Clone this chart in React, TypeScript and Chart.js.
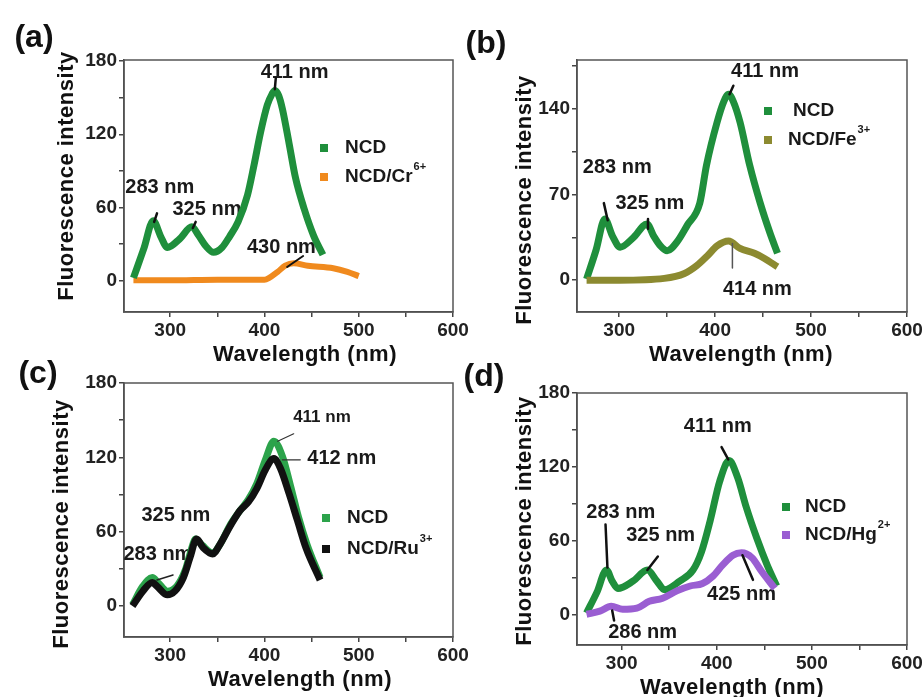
import React, { useEffect, useRef } from 'react';
import { Chart, registerables } from 'chart.js';

Chart.register(...registerables);

const FONT = '"Liberation Sans", Arial, Helvetica, sans-serif';

// ---------- Panel (a) ----------
const aNcdX = [261, 272, 282, 290, 297, 310, 323, 330, 338, 346, 355, 363, 372, 382, 389, 396, 403, 408, 411, 415, 419, 426, 433, 442, 452, 462];
const aNcdY = [2, 26, 49, 36, 27, 34, 44, 37, 28, 23, 27, 36, 48, 70, 95, 122, 144, 153, 156, 152, 141, 113, 84, 59, 37, 21];
const aCrX = [261, 300, 350, 400, 405, 414, 422, 431, 446, 473, 488, 500];
const aCrY = [0, 0, 0.5, 0.5, 2, 7, 12, 14, 12, 10, 7, 3.5];

// ---------- Panel (b) ----------
const bNcdX = [266, 276, 285, 293, 301, 315, 329, 336, 343, 350, 360, 371, 384, 391, 402, 409, 414, 419, 426, 436, 447, 457, 465];
const bNcdY = [1, 25, 50, 36, 27, 35, 46, 36, 28, 24, 31, 45, 63, 94, 129, 146, 152, 146, 129, 94, 63, 39, 22];
const bFeX = [266, 300, 347, 368, 381, 392, 402, 414, 426, 441, 451, 465];
const bFeY = [0, 0, 1.5, 5.5, 12, 20, 28, 32, 26, 22, 18, 11];

// ---------- Panel (c) ----------
const cNcdX = [260, 271, 281, 287, 297, 307, 316, 321, 327, 334, 345, 353, 364, 374, 383, 392, 401, 410, 419, 428, 436, 445, 459];
const cNcdY = [1, 16, 23, 19, 12, 16, 29, 42, 54, 49, 43, 50, 66, 77, 86, 99, 118, 133, 121, 96, 72, 50, 23];
const cRuX = [260, 271, 281, 286, 297, 305, 314, 321, 328, 335, 345, 353, 364, 374, 383, 392, 401, 410, 417, 426, 435, 444, 459];
const cRuY = [0, 12, 19, 16, 9, 12, 23, 39, 54, 47, 42, 50, 65, 77, 84, 95, 110, 119, 111, 91, 69, 47, 21];

// ---------- Panel (d) ----------
const dNcdX = [263, 274, 284, 290, 296, 312, 327, 337, 345, 361, 375, 384, 393, 403, 413, 422, 431, 442, 453, 463];
const dNcdY = [1, 18, 36, 27, 21, 27, 36, 27, 20, 27, 36, 51, 76, 108, 125, 111, 87, 62, 40, 23];
const dHgX = [263, 277, 289, 301, 316, 329, 343, 358, 372, 385, 396, 406, 417, 426, 437, 447, 461];
const dHgY = [0, 2.5, 6.5, 4, 5, 10.5, 13, 19, 23, 25, 31, 40, 48, 50, 46, 35, 21];

// ---------- Ticks ----------
const xTicks = [300, 350, 400, 450, 500, 550, 600];
const xLabels = [300, 400, 500, 600];
const yTicks60 = [0, 30, 60, 90, 120, 150, 180];
const yLabels60 = [0, 60, 120, 180];
const yTicks70 = [0, 35, 70, 105, 140, 175];
const yLabels70 = [0, 70, 140];

// ---------- Peak annotations (data coordinates) ----------
type Note = { t: string; x: number; y: number; s?: number };
type Lead = { x1: number; y1: number; x2: number; y2: number; w: number; c: string };

const aNotes: Note[] = [
  { t: '411 nm', x: 432, y: 171 },
  { t: '283 nm', x: 289, y: 76 },
  { t: '325 nm', x: 339, y: 58 },
  { t: '430 nm', x: 418, y: 27 },
];
const aLeads: Lead[] = [
  { x1: 412, y1: 166, x2: 411, y2: 157, w: 2.5, c: '#111' },
  { x1: 286, y1: 55, x2: 283, y2: 48, w: 2.5, c: '#111' },
  { x1: 327, y1: 48, x2: 324, y2: 43, w: 2.5, c: '#111' },
  { x1: 441, y1: 20, x2: 424, y2: 11, w: 2, c: '#111' },
];
const bNotes: Note[] = [
  { t: '411 nm', x: 452, y: 171 },
  { t: '283 nm', x: 298, y: 92 },
  { t: '325 nm', x: 332, y: 63 },
  { t: '414 nm', x: 444, y: -8 },
];
const bLeads: Lead[] = [
  { x1: 419, y1: 159, x2: 415, y2: 152, w: 2.5, c: '#111' },
  { x1: 284, y1: 63, x2: 288, y2: 49, w: 2.5, c: '#111' },
  { x1: 330, y1: 50, x2: 330, y2: 42, w: 2.5, c: '#111' },
  { x1: 418, y1: 30, x2: 418, y2: 10, w: 1.5, c: '#555' },
];
const cNotes: Note[] = [
  { t: '411 nm', x: 461, y: 152, s: 17 },
  { t: '412 nm', x: 482, y: 119 },
  { t: '325 nm', x: 306, y: 73 },
  { t: '283 nm', x: 287, y: 42 },
];
const cLeads: Lead[] = [
  { x1: 431, y1: 139, x2: 414, y2: 133, w: 1.2, c: '#333' },
  { x1: 438, y1: 118, x2: 419, y2: 118, w: 1.2, c: '#333' },
  { x1: 286, y1: 21, x2: 303, y2: 25, w: 1.5, c: '#222' },
];
const dNotes: Note[] = [
  { t: '411 nm', x: 401, y: 153 },
  { t: '283 nm', x: 299, y: 83 },
  { t: '325 nm', x: 341, y: 64 },
  { t: '425 nm', x: 426, y: 16 },
  { t: '286 nm', x: 322, y: -15 },
];
const dLeads: Lead[] = [
  { x1: 405, y1: 136, x2: 412, y2: 126, w: 2.5, c: '#111' },
  { x1: 283, y1: 73, x2: 285, y2: 38, w: 2.5, c: '#111' },
  { x1: 338, y1: 47, x2: 327, y2: 36, w: 2.5, c: '#111' },
  { x1: 427, y1: 48, x2: 438, y2: 28, w: 2.5, c: '#111' },
  { x1: 290, y1: 3, x2: 292, y2: -5, w: 2.5, c: '#111' },
];

// ---------- Colours ----------
const GREEN = '#1f8f3c';
const GREEN_C = '#2ca34b';
const ORANGE = '#f08a1e';
const OLIVE = '#8c8a30';
const BLACK = '#111111';
const PURPLE = '#9a5ed2';

type Series = { label: string; sup?: string; color: string; xs: number[]; ys: number[]; width: number };
type LegendPos = { sx: number; sy: number; tx: number };
type Panel = {
  tag: string;
  area: [number, number, number, number];
  xMin: number; xMax: number; yMin: number; yMax: number;
  yTicks: number[]; yLabels: number[];
  series: Series[]; // first drawn on top
  legend: LegendPos[];
  legendOrder: number[];
  notes: Note[]; leads: Lead[];
  labelPos: [number, number];
  xTitle: [number, number];
  yTitle: [number, number];
};

const panels: Panel[] = [
  {
    tag: '(a)', area: [124, 60, 453, 312], xMin: 251, xMax: 600, yMin: -26, yMax: 181,
    yTicks: yTicks60, yLabels: yLabels60,
    series: [
      { label: 'NCD', color: GREEN, xs: aNcdX, ys: aNcdY, width: 7 },
      { label: 'NCD/Cr', sup: '6+', color: ORANGE, xs: aCrX, ys: aCrY, width: 6 },
    ],
    legendOrder: [0, 1],
    legend: [{ sx: 324, sy: 148, tx: 345 }, { sx: 324, sy: 177, tx: 345 }],
    notes: aNotes, leads: aLeads,
    labelPos: [34, 38], xTitle: [305, 355], yTitle: [67, 176],
  },
  {
    tag: '(b)', area: [577, 60, 907, 312], xMin: 256, xMax: 600, yMin: -26, yMax: 180,
    yTicks: yTicks70, yLabels: yLabels70,
    series: [
      { label: 'NCD/Fe', sup: '3+', color: OLIVE, xs: bFeX, ys: bFeY, width: 7 },
      { label: 'NCD', color: GREEN, xs: bNcdX, ys: bNcdY, width: 7 },
    ],
    legendOrder: [1, 0],
    legend: [{ sx: 768, sy: 111, tx: 793 }, { sx: 768, sy: 140, tx: 788 }],
    notes: bNotes, leads: bLeads,
    labelPos: [486, 44], xTitle: [741, 355], yTitle: [525, 200],
  },
  {
    tag: '(c)', area: [124, 383, 453, 637], xMin: 251, xMax: 600, yMin: -25, yMax: 180,
    yTicks: yTicks60, yLabels: yLabels60,
    series: [
      { label: 'NCD/Ru', sup: '3+', color: BLACK, xs: cRuX, ys: cRuY, width: 7 },
      { label: 'NCD', color: GREEN_C, xs: cNcdX, ys: cNcdY, width: 7 },
    ],
    legendOrder: [1, 0],
    legend: [{ sx: 326, sy: 518, tx: 347 }, { sx: 326, sy: 549, tx: 347 }],
    notes: cNotes, leads: cLeads,
    labelPos: [38, 374], xTitle: [300, 680], yTitle: [62, 524],
  },
  {
    tag: '(d)', area: [577, 393, 907, 645], xMin: 253, xMax: 600, yMin: -25, yMax: 180,
    yTicks: yTicks60, yLabels: yLabels60,
    series: [
      { label: 'NCD/Hg', sup: '2+', color: PURPLE, xs: dHgX, ys: dHgY, width: 7 },
      { label: 'NCD', color: GREEN, xs: dNcdX, ys: dNcdY, width: 7 },
    ],
    legendOrder: [1, 0],
    legend: [{ sx: 786, sy: 507, tx: 805 }, { sx: 786, sy: 535, tx: 805 }],
    notes: dNotes, leads: dLeads,
    labelPos: [484, 377], xTitle: [732, 688], yTitle: [525, 521],
  },
];

const W = 922;
const H = 697;
const YW = 50;
const XH = 30;
const TEXT = '#1a1a1a';

function makeChart(canvas: HTMLCanvasElement, p: Panel) {
  const [L, T, R, B] = p.area;
  const deco = {
    id: 'deco' + p.tag,
    beforeDatasetsDraw(chart: any) {
      const ctx: CanvasRenderingContext2D = chart.ctx;
      const xs = chart.scales.x;
      const ys = chart.scales.y;
      const ca = chart.chartArea;
      ctx.save();
      ctx.strokeStyle = '#555';
      ctx.lineWidth = 1.5;
      ctx.strokeRect(ca.left, ca.top, ca.right - ca.left, ca.bottom - ca.top);
      ctx.fillStyle = TEXT;
      ctx.textAlign = 'center';
      ctx.textBaseline = 'middle';
      for (const n of p.notes) {
        ctx.font = `bold ${n.s || 20}px ${FONT}`;
        ctx.fillText(n.t, xs.getPixelForValue(n.x), ys.getPixelForValue(n.y));
      }
      ctx.restore();
    },
    afterDatasetsDraw(chart: any) {
      const ctx: CanvasRenderingContext2D = chart.ctx;
      const xs = chart.scales.x;
      const ys = chart.scales.y;
      ctx.save();
      ctx.lineCap = 'round';
      for (const l of p.leads) {
        ctx.strokeStyle = l.c;
        ctx.lineWidth = l.w;
        ctx.beginPath();
        ctx.moveTo(xs.getPixelForValue(l.x1), ys.getPixelForValue(l.y1));
        ctx.lineTo(xs.getPixelForValue(l.x2), ys.getPixelForValue(l.y2));
        ctx.stroke();
      }
      p.legendOrder.forEach((si, i) => {
        const s = p.series[si];
        const lp = p.legend[i];
        ctx.fillStyle = s.color;
        ctx.fillRect(lp.sx - 4, lp.sy - 4, 8, 8);
        ctx.fillStyle = TEXT;
        ctx.textAlign = 'left';
        ctx.textBaseline = 'middle';
        ctx.font = `bold 19px ${FONT}`;
        ctx.fillText(s.label, lp.tx, lp.sy);
        if (s.sup) {
          const w = ctx.measureText(s.label).width;
          ctx.font = `bold 11px ${FONT}`;
          ctx.fillText(s.sup, lp.tx + w + 1, lp.sy - 10);
        }
      });
      ctx.fillStyle = '#111';
      ctx.textAlign = 'center';
      ctx.textBaseline = 'middle';
      ctx.font = `bold 32px ${FONT}`;
      ctx.fillText(p.tag, p.labelPos[0], p.labelPos[1]);
      ctx.font = `bold 22px ${FONT}`;
      (ctx as any).letterSpacing = '0.5px';
      ctx.fillText('Wavelength (nm)', p.xTitle[0], p.xTitle[1]);
      ctx.translate(p.yTitle[0], p.yTitle[1]);
      ctx.rotate(-Math.PI / 2);
      ctx.fillText('Fluorescence intensity', 0, 0);
      (ctx as any).letterSpacing = '0px';
      ctx.restore();
    },
  };

  return new Chart(canvas, {
    type: 'line',
    data: {
      datasets: p.series.map((s) => ({
        label: s.label,
        data: s.xs.map((x, i) => ({ x, y: s.ys[i] })),
        borderColor: s.color,
        backgroundColor: s.color,
        borderWidth: s.width,
        pointRadius: 0,
        fill: false,
        cubicInterpolationMode: 'monotone' as const,
        borderJoinStyle: 'round' as const,
        borderCapStyle: 'butt' as const,
      })),
    },
    options: {
      responsive: false,
      maintainAspectRatio: false,
      animation: false,
      devicePixelRatio: 1,
      events: [],
      layout: { padding: { left: L - YW, top: T, right: W - R, bottom: H - B - XH } },
      plugins: { legend: { display: false }, tooltip: { enabled: false }, title: { display: false } },
      scales: {
        x: {
          type: 'linear',
          min: p.xMin,
          max: p.xMax,
          afterBuildTicks: (s: any) => { s.ticks = xTicks.map((v) => ({ value: v })); },
          afterFit: (s: any) => { s.height = XH; s.paddingLeft = 0; s.paddingRight = 0; },
          grid: { drawOnChartArea: false, tickLength: 5, color: '#444', lineWidth: 1.5 },
          border: { display: true, color: '#444', width: 1.5 },
          ticks: {
            autoSkip: false, maxRotation: 0, padding: 2, color: '#222',
            font: { family: FONT, size: 19, weight: 'bold' },
            callback: (v: any) => (xLabels.includes(Number(v)) ? String(v) : ''),
          },
        },
        y: {
          type: 'linear',
          min: p.yMin,
          max: p.yMax,
          afterBuildTicks: (s: any) => { s.ticks = p.yTicks.map((v) => ({ value: v })); },
          afterFit: (s: any) => { s.width = YW; s.paddingTop = 0; s.paddingBottom = 0; },
          grid: { drawOnChartArea: false, tickLength: 5, color: '#444', lineWidth: 1.5 },
          border: { display: true, color: '#444', width: 1.5 },
          ticks: {
            autoSkip: false, padding: 2, color: '#222',
            font: { family: FONT, size: 19, weight: 'bold' },
            callback: (v: any) => (p.yLabels.includes(Number(v)) ? String(v) : ''),
          },
        },
      },
    } as any,
    plugins: [deco],
  });
}

function PanelCanvas({ p }: { p: Panel }) {
  const ref = useRef<HTMLCanvasElement | null>(null);
  useEffect(() => {
    if (!ref.current) return;
    const chart = makeChart(ref.current, p);
    return () => chart.destroy();
  }, [p]);
  return <canvas ref={ref} width={W} height={H} style={{ position: 'absolute', left: 0, top: 0, width: W, height: H }} />;
}

export default function App() {
  return (
    <div style={{ position: 'absolute', left: 0, top: 0, width: W, height: H, background: '#fff', overflow: 'hidden' }}>
      {panels.map((p) => (
        <PanelCanvas key={p.tag} p={p} />
      ))}
    </div>
  );
}
